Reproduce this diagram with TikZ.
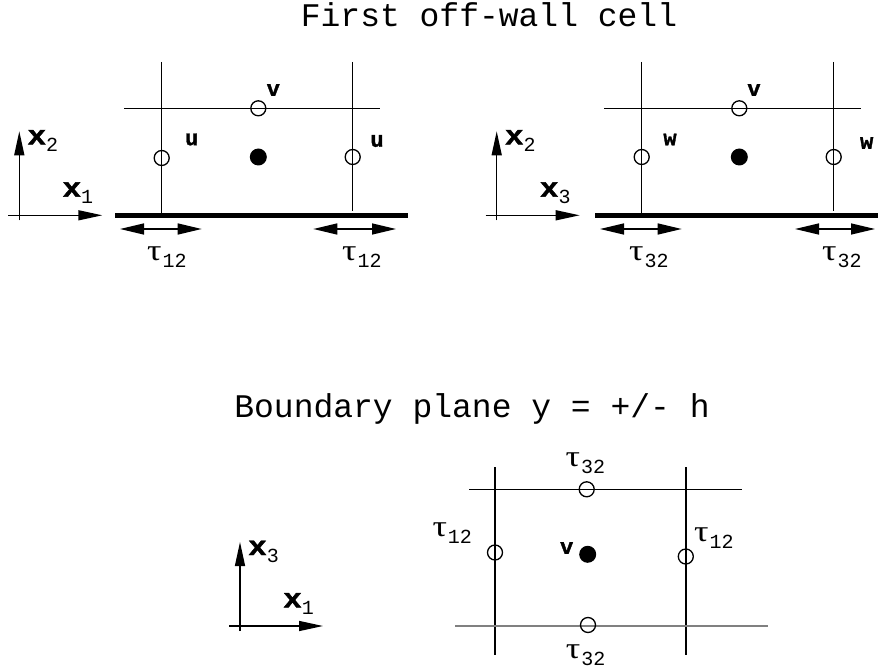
\documentclass[tikz,border=0pt]{standalone}
\usepackage{fontspec}
\setmainfont{Liberation Serif}
\setmonofont{Liberation Mono}
\newfontfamily\heavymono{Liberation Mono Bold}[FakeBold=1.5]
\usetikzlibrary{arrows.meta}
\tikzset{
  grid line/.style={line width=1.4pt},
  plane line/.style={line width=1.4pt,gray},
  wall/.style={line width=5pt},
  open pt/.style={circle,draw,line width=1.3pt,minimum size=15pt,inner sep=0pt},
  full pt/.style={circle,fill,minimum size=17pt,inner sep=0pt},
  axis arrow/.style={line width=1.4pt,-{Triangle[length=24pt,width=10pt]}},
  shear arrow/.style={line width=1.4pt,
    {Triangle[length=24pt,width=11pt]}-{Triangle[length=24pt,width=11pt]}},
  var lbl/.style={font=\heavymono\fontsize{22}{24}\selectfont,inner sep=0pt},
  title/.style={font=\ttfamily\fontsize{33}{36}\selectfont,inner sep=0pt},
  lbl/.style={anchor=base west,inner sep=0pt}
}
\newcommand{\subidx}[2]{{\ttfamily\fontsize{20}{22}\selectfont\raisebox{#1}{#2}}}
\newcommand{\axlbl}[1]{{\heavymono\fontsize{27}{28}\selectfont\scalebox{1.15}[1]{x}}\subidx{-7pt}{#1}}
\newcommand{\taulbl}[1]{{\fontsize{30}{32}\selectfont\scalebox{1.2}[1]{τ}}\kern1pt\subidx{-7pt}{#1}}
% axes: name, origin x, origin y, horizontal index, vertical index
\newcommand{\axes}[5]{%
  \coordinate (#1) at (#2,#3);
  \path (#1) ++(0,5) coordinate (#1-s) (#1) ++(0,-84) coordinate (#1-n)
        (#1) ++(-11,0) coordinate (#1-w) (#1) ++(83,0) coordinate (#1-e);
  \draw[axis arrow] (#1-s) -- (#1-n);
  \draw[axis arrow] (#1-w) -- (#1-e);
  \node[lbl] (#1-vl) at ([shift={(8,-71)}]#1) {\axlbl{#5}};
  \node[lbl] (#1-hl) at ([shift={(43,-18.6)}]#1) {\axlbl{#4}};}
% shear arrow: name, left x, right x, y, label x, index
\newcommand{\shear}[6]{%
  \coordinate (#1-a) at (#2,#4); \coordinate (#1-b) at (#3,#4);
  \draw[shear arrow] (#1-a) -- (#1-b);
  \node[lbl] (#1-l) at (#5,260) {\taulbl{#6}};}

\begin{document}
\begin{tikzpicture}[x=1pt,y=-1pt]
  \useasboundingbox (0,0) rectangle (878,671);
  \node[title,anchor=base] (t-wall) at (489,27) {First off-wall cell};
  \node[title,anchor=base] (t-plane) at (472,417) {Boundary plane y = +/- h};

  % first off-wall cell, x1-x2 plane
  \axes{ax12}{19.3}{215.3}{1}{2}
  \draw[grid line] (161.7,62) -- (161.7,213);
  \draw[grid line] (352.7,62) -- (352.7,211);
  \draw[grid line] (124.3,108.3) -- (380,108.3);
  \draw[wall] (115,215.3) -- (408.3,215.3);
  \node[open pt] (uv) at (258.3,108.3) {};
  \node[full pt] (up) at (258.3,157) {};
  \node[open pt] (uw) at (161.7,158) {};
  \node[open pt] (ue) at (352.7,157) {};
  \node[var lbl] at (273.3,90) {v};
  \node[var lbl] at (191.7,139.5) {u};
  \node[var lbl] at (377,141) {u};
  \shear{s1}{120}{201.7}{229}{147}{12}
  \shear{s2}{313.3}{396}{229}{342}{12}

  % first off-wall cell, x3-x2 plane
  \axes{ax32}{496.7}{215.3}{3}{2}
  \draw[grid line] (641.7,62) -- (641.7,213);
  \draw[grid line] (833.7,62) -- (833.7,211);
  \draw[grid line] (604.3,108.3) -- (860.7,108.3);
  \draw[wall] (595,215.3) -- (878,215.3);
  \node[open pt] (wv) at (739.3,108.3) {};
  \node[full pt] (wp) at (739.3,157) {};
  \node[open pt] (ww) at (641.7,157) {};
  \node[open pt] (we) at (833.7,157) {};
  \node[var lbl] at (754,90) {v};
  \node[var lbl] at (670,139.5) {w};
  \node[var lbl] at (866.7,143) {w};
  \shear{s3}{600}{681.7}{229}{629}{32}
  \shear{s4}{795}{875}{229}{822}{32}

  % boundary plane, x1-x3
  \axes{ax13}{240}{626}{1}{3}
  \draw[grid line] (495,467) -- (495,655);
  \draw[grid line] (686,467) -- (686,655);
  \draw[grid line] (469,489.3) -- (742,489.3);
  \draw[plane line] (455,626) -- (768.3,626);
  \node[open pt] (bn) at (586.7,489.3) {};
  \node[open pt] (bs) at (588,625) {};
  \node[open pt] (bw) at (495,552.5) {};
  \node[open pt] (be) at (685.8,556.5) {};
  \node[full pt] (bp) at (587.7,554.3) {};
  \node[var lbl] at (566.7,548) {v};
  \node[lbl] (bn-l) at (565.5,466) {\taulbl{32}};
  \node[lbl] (bs-l) at (565.7,658) {\taulbl{32}};
  \node[lbl] (bw-l) at (432.3,536.7) {\taulbl{12}};
  \node[lbl] (be-l) at (694,541.7) {\taulbl{12}};
\end{tikzpicture}
\end{document}
